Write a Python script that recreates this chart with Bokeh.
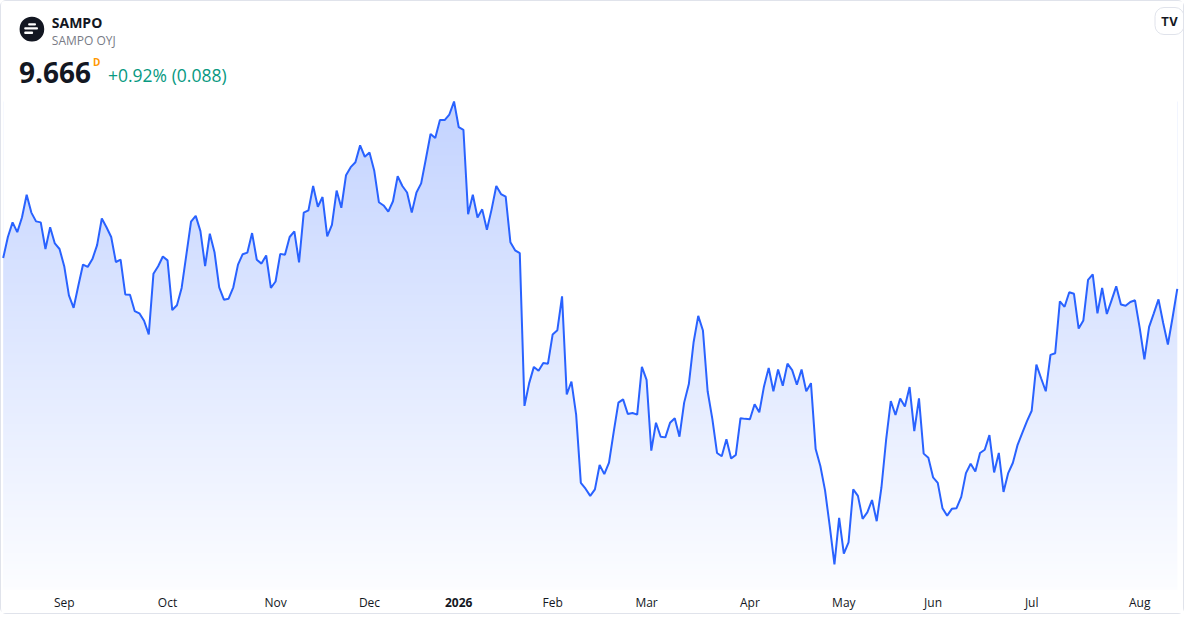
import numpy as np
from bokeh.plotting import figure
from bokeh.models import Range1d, Label, BoxAnnotation
from bokeh.core.properties import value
from bokeh.embed import file_html
from bokeh.resources import INLINE

# ---- data (daily closes, SAMPO OYJ, Aug 2025 - Aug 2026) ----
closes = [
    9.761, 9.826, 9.871, 9.841, 9.886, 9.956, 9.901, 9.874, 9.871, 9.789,
    9.856, 9.806, 9.789, 9.736, 9.646, 9.608, 9.676, 9.741, 9.734, 9.758,
    9.801, 9.883, 9.856, 9.826, 9.749, 9.756, 9.649, 9.648, 9.598, 9.591,
    9.568, 9.526, 9.713, 9.736, 9.766, 9.754, 9.601, 9.616, 9.669, 9.771,
    9.873, 9.891, 9.844, 9.736, 9.836, 9.779, 9.671, 9.633, 9.636, 9.671,
    9.741, 9.773, 9.778, 9.838, 9.756, 9.744, 9.769, 9.669, 9.689, 9.774,
    9.771, 9.826, 9.843, 9.748, 9.901, 9.908, 9.983, 9.919, 9.949, 9.828,
    9.863, 9.969, 9.916, 10.016, 10.041, 10.056, 10.108, 10.073, 10.086, 10.031,
    9.933, 9.923, 9.904, 9.936, 10.013, 9.983, 9.963, 9.901, 9.963, 9.991,
    10.066, 10.143, 10.131, 10.186, 10.186, 10.203, 10.243, 10.164, 10.156, 9.896,
    9.956, 9.886, 9.911, 9.848, 9.911, 9.983, 9.958, 9.950, 9.810, 9.785,
    9.776, 9.306, 9.376, 9.426, 9.414, 9.438, 9.436, 9.526, 9.539, 9.643,
    9.341, 9.381, 9.279, 9.069, 9.051, 9.029, 9.049, 9.124, 9.096, 9.131,
    9.226, 9.316, 9.326, 9.281, 9.284, 9.279, 9.426, 9.386, 9.168, 9.254,
    9.211, 9.209, 9.254, 9.268, 9.211, 9.316, 9.373, 9.501, 9.583, 9.538,
    9.351, 9.266, 9.161, 9.151, 9.203, 9.144, 9.155, 9.268, 9.266, 9.265,
    9.311, 9.286, 9.366, 9.423, 9.351, 9.418, 9.368, 9.436, 9.416, 9.371,
    9.418, 9.351, 9.376, 9.173, 9.121, 9.046, 8.936, 8.818, 8.961, 8.851,
    8.886, 9.049, 9.029, 8.958, 8.978, 9.016, 8.951, 9.054, 9.201, 9.321,
    9.278, 9.329, 9.304, 9.364, 9.228, 9.329, 9.159, 9.146, 9.086, 9.069,
    8.991, 8.968, 8.989, 8.991, 9.026, 9.099, 9.128, 9.104, 9.161, 9.171,
    9.216, 9.101, 9.161, 9.041, 9.099, 9.131, 9.186, 9.223, 9.259, 9.291,
    9.433, 9.391, 9.351, 9.463, 9.468, 9.628, 9.611, 9.656, 9.651, 9.544,
    9.569, 9.694, 9.711, 9.591, 9.669, 9.589, 9.631, 9.674, 9.618, 9.614,
    9.626, 9.631, 9.546, 9.449, 9.549, 9.591, 9.634, 9.561, 9.495, 9.578,
    9.666,
]
days = list(range(len(closes)))  # trading-day index

month_ticks = [13, 35, 58, 78, 97, 117, 137, 159, 179, 198, 219, 242]
month_labels = ["Sep", "Oct", "Nov", "Dec", "2026", "Feb", "Mar", "Apr",
                "May", "Jun", "Jul", "Aug"]
year_labels = ["2026"]

symbol = "SAMPO"
company = "SAMPO OYJ"
last_price = "9.666"
interval = "D"
change_text = "+0.92% (0.088)"

# ---- layout ----
W, H = 1184, 614
X0, X1 = -0.357, 251.75
YMAX = 10.551
YMIN = YMAX - H / 324.8

FONT = "Open Sans"


def sx(px):
    return X0 + px * (X1 - X0) / W


def sy(py):
    return YMAX - py * (YMAX - YMIN) / H


p = figure(width=W, height=H, output_backend="svg", toolbar_location=None,
           x_range=Range1d(X0, X1), y_range=Range1d(YMIN, YMAX),
           x_axis_location=None, y_axis_location=None,
           min_border=0)
p.outline_line_color = None
p.grid.visible = False
p.background_fill_color = "white"
p.border_fill_color = "white"
p.styles = {"border": "1px solid #e0e3eb", "border-radius": "6px"}

# gradient fill under the line
pane_bottom = sy(588)
top = max(closes)
n = 300
alpha = np.linspace(0.015, 0.28, n)
base = np.array([41, 98, 255])
img = np.empty((n, 1), dtype=np.uint32)
view = img.view(dtype=np.uint8).reshape((n, 1, 4))
for i, a in enumerate(alpha):
    c = 255 - (255 - base) * a
    view[i, 0, 0] = int(round(c[0]))
    view[i, 0, 1] = int(round(c[1]))
    view[i, 0, 2] = int(round(c[2]))
    view[i, 0, 3] = 255
p.image_rgba(image=[img], x=days[0], y=pane_bottom, dw=days[-1] - days[0],
             dh=top - pane_bottom)
# white mask above the series
p.varea(x=days, y1=closes, y2=[YMAX + 1] * len(closes), fill_color="white")
p.line(days, closes, line_color="#2962ff", line_width=2)

# time scale labels
label_y = sy(601)
norm = [(t, l) for t, l in zip(month_ticks, month_labels) if l not in year_labels]
bold = [(t, l) for t, l in zip(month_ticks, month_labels) if l in year_labels]
p.text(x=[t for t, _ in norm], y=[label_y] * len(norm), text=[l for _, l in norm],
       text_align="center", text_baseline="middle", text_font=value(FONT),
       text_font_size="12px", text_color="#131722")
p.text(x=[t for t, _ in bold], y=[label_y] * len(bold), text=[l for _, l in bold],
       text_align="center", text_baseline="middle", text_font=value(FONT),
       text_font_size="12px", text_font_style="bold", text_color="#131722")

# header: logo
p.add_layout(BoxAnnotation(left=sx(18.1), right=sx(42.7), top=sy(15.3), bottom=sy(39.9),
                           fill_color="#131722", fill_alpha=1, line_color=None,
                           border_radius=12, level="overlay"))
for (l, r, yc) in [(26.6, 34.5, 22.9), (22.7, 36.5, 26.9), (22.7, 31.6, 31.2)]:
    p.add_layout(BoxAnnotation(left=sx(l), right=sx(r), top=sy(yc - 1.2), bottom=sy(yc + 1.2),
                               fill_color="white", fill_alpha=1, line_color=None,
                               border_radius=1, level="overlay"))

p.add_layout(Label(x=sx(50.3), y=sy(20.5), text=symbol, text_baseline="middle",
                   text_font=FONT, text_font_size="14px", text_font_style="bold",
                   text_color="#131722"))
p.add_layout(Label(x=sx(50.3), y=sy(39), text=company, text_baseline="middle",
                   text_font=FONT, text_font_size="12px", text_color="#787b86"))
p.add_layout(Label(x=sx(17.5), y=sy(71), text=last_price, text_baseline="middle",
                   text_font=FONT, text_font_size="28px", text_font_style="bold",
                   text_color="#131722"))
p.add_layout(Label(x=sx(91.5), y=sy(60), text=interval, text_baseline="middle",
                   text_font=FONT, text_font_size="10px", text_font_style="bold",
                   text_color="#ff9800"))
p.add_layout(Label(x=sx(106.5), y=sy(73), text=change_text, text_baseline="middle",
                   text_font=FONT, text_font_size="17.5px", text_color="#089981"))

# TradingView badge
p.add_layout(Label(x=sx(1168), y=sy(19.5), text="TV", text_align="center",
                   text_baseline="middle", text_font="Inter", text_font_size="12px",
                   text_font_style="bold", text_color="#131722",
                   background_fill_color="white", border_line_color="#e0e3eb",
                   padding=6, border_radius=9))

open("out.html", "w").write(file_html(p, INLINE))
